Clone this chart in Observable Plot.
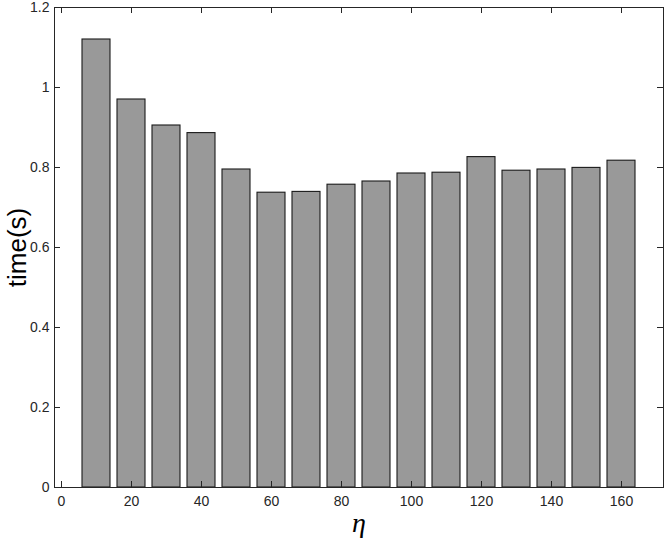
<!DOCTYPE html>
<html>
<head>
<meta charset="utf-8">
<script src="https://cdn.jsdelivr.net/npm/d3@7"></script>
<script src="https://cdn.jsdelivr.net/npm/@observablehq/plot@0.6"></script>
<style>
  html, body { margin: 0; padding: 0; background: #fff; }
  #chart svg { display: block; }
</style>
</head>
<body>
<div id="chart"></div>
<script>
// Data
const etas  = [10, 20, 30, 40, 50, 60, 70, 80, 90, 100, 110, 120, 130, 140, 150, 160];
const times = [1.12, 0.970, 0.905, 0.886, 0.795, 0.737, 0.739, 0.757, 0.765, 0.785, 0.787, 0.826, 0.792, 0.795, 0.799, 0.817];
const xTicks = [0, 20, 40, 60, 80, 100, 120, 140, 160];
const yTicks = [0, 0.2, 0.4, 0.6, 0.8, 1, 1.2];
const barWidth = 8; // 0.8 of the 10-unit spacing

const data = etas.map((e, i) => ({eta: e, time: times[i]}));

const W = 664, H = 543;
const mL = 54, mR = 1, mT = 7, mB = 56;
const pw = W - mL - mR, ph = H - mT - mB;
const tickLen = 6;
const axisColor = "#262626";
const font = "'Liberation Sans', Arial, Helvetica, sans-serif";

const chart = Plot.plot({
  width: W,
  height: H,
  marginLeft: mL,
  marginRight: mR,
  marginTop: mT,
  marginBottom: mB,
  style: {fontFamily: font, fontSize: "14px", color: axisColor, background: "#fff"},
  x: {domain: [-2, 172]},
  y: {domain: [0, 1.2]},
  marks: [
    Plot.rectY(data, {
      x1: d => d.eta - barWidth / 2,
      x2: d => d.eta + barWidth / 2,
      y: "time",
      fill: "#999999",
      stroke: "#1a1a1a",
      strokeWidth: 1.1
    }),
    Plot.frame({stroke: axisColor, strokeWidth: 1}),
    // inward ticks bottom/top
    Plot.tickX(xTicks, {x: d => d, stroke: axisColor, insetTop: ph - tickLen}),
    Plot.tickX(xTicks, {x: d => d, stroke: axisColor, insetBottom: ph - tickLen}),
    // inward ticks left/right
    Plot.tickY(yTicks, {y: d => d, stroke: axisColor, insetRight: pw - tickLen}),
    Plot.tickY(yTicks, {y: d => d, stroke: axisColor, insetLeft: pw - tickLen}),
    Plot.axisX(xTicks, {tickSize: 0, tickPadding: 9, label: null, fontSize: 14, fill: axisColor}),
    Plot.axisY(yTicks, {tickSize: 0, tickPadding: 5, label: null, fontSize: 14, fill: axisColor, tickFormat: d => String(d)}),
    Plot.text(["time(s)"], {
      frameAnchor: "left", dx: -37, rotate: -90,
      fontSize: 26, fill: "#000", fontFamily: font, textAnchor: "middle"
    }),
    Plot.text(["η"], {
      frameAnchor: "bottom", dy: 44,
      fontSize: 28, fill: "#000", fontStyle: "italic",
      fontFamily: "'Liberation Serif', 'Times New Roman', serif"
    })
  ]
});
document.getElementById("chart").append(chart);
</script>
</body>
</html>
